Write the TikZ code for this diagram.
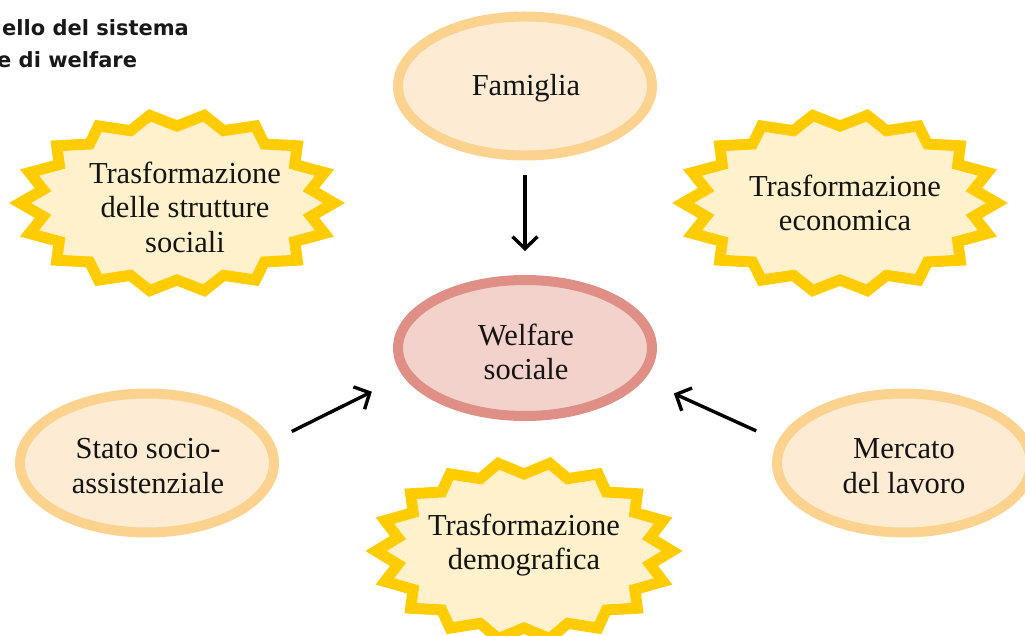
\documentclass[tikz,border=0pt]{standalone}
\usepackage{fontspec}
\setmainfont{Liberation Serif}
\newfontfamily\titlefont{DejaVu Sans}[BoldFont={DejaVu Sans Bold}]
\usetikzlibrary{shapes.geometric,arrows.meta}
\definecolor{ellstroke}{RGB}{251,211,143}
\definecolor{ellfill}{RGB}{253,235,211}
\definecolor{welstroke}{RGB}{224,143,134}
\definecolor{welfill}{RGB}{242,210,202}
\definecolor{burststroke}{RGB}{255,204,0}
\definecolor{burstfill}{RGB}{255,241,204}
\begin{document}
\begin{tikzpicture}[x=1pt,y=-1pt,
  lbl/.style={align=center, font=\fontsize{30.5}{34.5}\selectfont, text=black!92},
  ell/.style={ellipse, draw=ellstroke, fill=ellfill, line width=10pt, minimum width=254pt, minimum height=139pt, inner sep=0pt},
  welell/.style={ell, draw=welstroke, fill=welfill, minimum height=136pt},
  burst/.style={draw=burststroke, fill=burstfill, line width=11pt, line join=miter, miter limit=10},
  arr/.style={line width=3.4pt, -{Straight Barb[length=12pt,width=25pt]}},
  ttl/.style={anchor=base west, inner sep=0pt, font=\titlefont\bfseries\fontsize{21}{24}\selectfont, text=black!90}
]
\useasboundingbox (0,0) rectangle (1025,636);

% title (cut at the left edge)
\node[ttl] (t1) at (2,36) {ello del sistema};
\node[ttl] (t2) at (-3,68) {e di welfare};

% starbursts
\draw[burst, shift={(177,203)}] (0:157 and 89) \foreach \i in {0,...,17}{ -- ({\i*20+10}:136 and 77) -- ({\i*20+20}:157 and 89)} -- cycle;
\draw[burst, shift={(840,203)}] (0:157 and 89) \foreach \i in {0,...,17}{ -- ({\i*20+10}:136 and 77) -- ({\i*20+20}:157 and 89)} -- cycle;
\draw[burst, shift={(524,551)}] (0:148 and 89) \foreach \i in {0,...,17}{ -- ({\i*20+10}:128 and 77) -- ({\i*20+20}:148 and 89)} -- cycle;

\node[lbl] (soc) at (185,207) {Trasformazione\\delle strutture\\sociali};
\node[lbl] (eco) at (845,203) {Trasformazione\\economica};
\node[lbl] (dem) at (524,545) {Trasformazione\\demografica};

% ellipses
\node[ell] (fam) at (525,86) {};
\node[welell] (wel) at (525,348) {};
\node[ell] (sta) at (147,463) {};
\node[ell] (mer) at (904,463) {};
\node[lbl] (famt) at (526,88) {Famiglia};
\node[lbl] (welt) at (526,352) {Welfare\\sociale};
\node[lbl] (stat) at (148,466) {Stato socio-\\assistenziale};
\node[lbl] (mert) at (904,466) {Mercato\\del lavoro};

% arrows
\draw[arr, shorten <=15pt, shorten >=24pt] (fam.south) -- (wel.north);
\draw[arr, shorten <=21pt, shorten >=35pt] (sta.10) -- (wel.193);
\draw[arr, shorten <=24pt, shorten >=33pt] (mer.170) -- (wel.345);
\end{tikzpicture}
\end{document}
